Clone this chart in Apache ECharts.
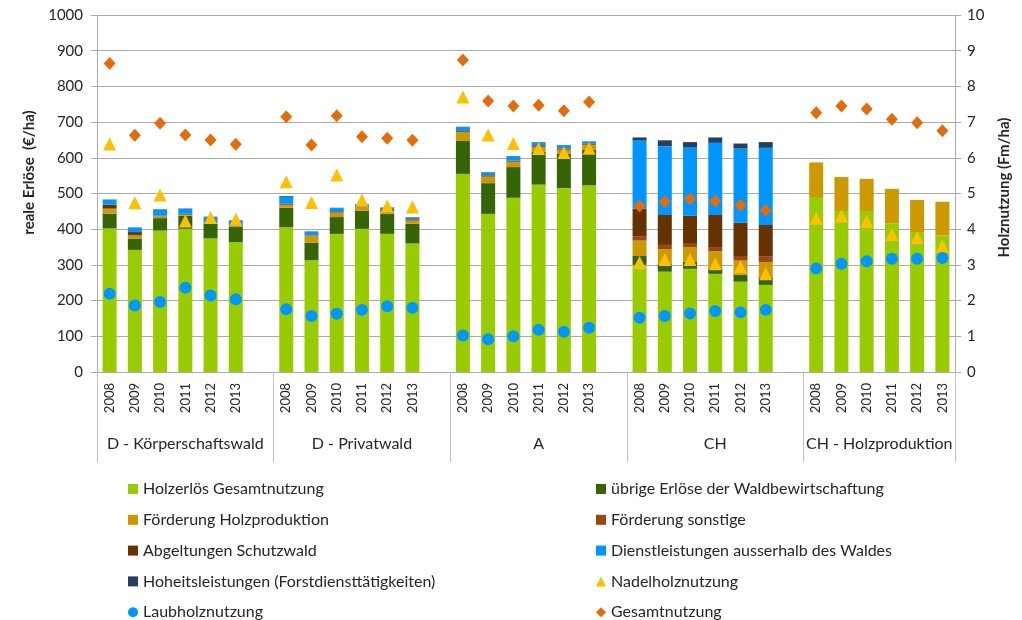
<!DOCTYPE html>
<html>
<head>
<meta charset="utf-8">
<script src="https://cdn.jsdelivr.net/npm/echarts@6/dist/echarts.min.js"></script>
<style>
  html, body { margin: 0; padding: 0; background: #fff; }
  #chart { width: 1022px; height: 620px; }
</style>
</head>
<body>
<div id="chart"></div>
<script>
// groups and years
const groups = ['D - Körperschaftswald', 'D - Privatwald', 'A', 'CH', 'CH - Holzproduktion']
const years = ['2008', '2009', '2010', '2011', '2012', '2013']

// bar segments, €/ha (6 years per group, groups in order above)
const holzerloes = [
  402, 342, 396, 401, 374, 364,
  406, 313, 387, 401, 387, 360,
  555, 443, 488, 525, 515, 523,
  300, 281, 289, 275, 253, 244,
  490, 451, 451, 416, 392, 382
]
const uebrigeErloese = [
  41, 32, 35, 37, 42, 42,
  54, 49, 47, 51, 56, 55,
  92, 86, 86, 91, 96, 99,
  25, 21, 20, 15, 19, 21,
  0, 0, 0, 0, 0, 0
]
const foerderungHolz = [
  13, 8, 5, 2, 2, 2,
  7, 20, 12, 10, 8, 9,
  24, 18, 14, 13, 11, 13,
  43, 42, 41, 48, 40, 43,
  97, 95, 90, 97, 90, 95
]
const foerderungSonstige = [
  2, 2, 1, 1, 1, 1,
  2, 1, 1, 1, 3, 2,
  2, 2, 2, 2, 2, 2,
  11, 12, 9, 12, 13, 15,
  0, 0, 0, 0, 0, 0
]
const schutzwald = [
  11, 8, 1, 2, 1, 1,
  3, 1, 1, 0, 2, 2,
  2, 2, 2, 2, 2, 2,
  78, 84, 79, 90, 93, 89,
  0, 0, 0, 0, 0, 0
]
const dienstleistungen = [
  13, 12, 17, 14, 14, 14,
  19, 9, 11, 6, 4, 5,
  11, 8, 12, 10, 9, 6,
  191, 192, 192, 202, 208, 216,
  0, 0, 0, 0, 0, 0
]
const hoheitsleistungen = [
  1, 1, 1, 1, 1, 1,
  2, 1, 1, 1, 1, 1,
  1, 1, 1, 1, 1, 1,
  9, 17, 14, 15, 14, 16,
  0, 0, 0, 0, 0, 0
]

// markers, Fm/ha
const nadelholz = [
  6.39, 4.74, 4.96, 4.23, 4.33, 4.28,
  5.33, 4.75, 5.52, 4.82, 4.65, 4.62,
  7.70, 6.64, 6.40, 6.26, 6.15, 6.27,
  3.07, 3.15, 3.15, 3.03, 2.95, 2.75,
  4.31, 4.37, 4.22, 3.85, 3.76, 3.53
]
const laubholz = [
  2.19, 1.86, 1.96, 2.36, 2.14, 2.04,
  1.76, 1.57, 1.63, 1.74, 1.84, 1.80,
  1.02, 0.92, 1.00, 1.18, 1.13, 1.24,
  1.52, 1.57, 1.64, 1.71, 1.67, 1.74,
  2.90, 3.03, 3.10, 3.17, 3.17, 3.19
]
const gesamtnutzung = [
  8.64, 6.63, 6.97, 6.64, 6.50, 6.38,
  7.15, 6.36, 7.18, 6.59, 6.55, 6.49,
  8.74, 7.59, 7.45, 7.47, 7.32, 7.56,
  4.65, 4.77, 4.85, 4.78, 4.67, 4.53,
  7.26, 7.45, 7.37, 7.08, 6.98, 6.76
]

const leftTicks = [0, 100, 200, 300, 400, 500, 600, 700, 800, 900, 1000]
const rightTicks = [0, 1, 2, 3, 4, 5, 6, 7, 8, 9, 10]

// one empty slot after every group except the last
const slotsPerGroup = groups.map((g, i) => i < groups.length - 1 ? years.length + 1 : years.length)
const expand = (arr, blank) => {
  const out = []
  groups.forEach((g, gi) => {
    years.forEach((y, yi) => out.push(arr[gi * years.length + yi]))
    if (gi < groups.length - 1) out.push(blank)
  })
  return out
}
const categories = expand(years.concat(years, years, years, years), '')
const totalSlots = categories.length
const groupEdges = [0]
slotsPerGroup.forEach(n => groupEdges.push(groupEdges[groupEdges.length - 1] + n))
const groupCenters = groups.map((g, i) => (groupEdges[i] + groupEdges[i + 1]) / 2)

const FONT = 'Lato'
const TEXT = '#262626'
const GRID = '#ababab'

const barDefs = [
  ['Holzerlös Gesamtnutzung', holzerloes, '#99cc00'],
  ['übrige Erlöse der Waldbewirtschaftung', uebrigeErloese, '#356405'],
  ['Förderung Holzproduktion', foerderungHolz, '#cc9900'],
  ['Förderung sonstige', foerderungSonstige, '#9c4710'],
  ['Abgeltungen Schutzwald', schutzwald, '#663300'],
  ['Dienstleistungen ausserhalb des Waldes', dienstleistungen, '#0096ff'],
  ['Hoheitsleistungen (Forstdiensttätigkeiten)', hoheitsleistungen, '#243f60']
]
const markerDefs = [
  ['Nadelholznutzung', nadelholz, '#ffc000', 'triangle', 13],
  ['Laubholznutzung', laubholz, '#0096ff', 'circle', 12],
  ['Gesamtnutzung', gesamtnutzung, '#e46c0a', 'diamond', 12]
]

const series = []
barDefs.forEach(([name, arr, color]) => {
  series.push({
    name, type: 'bar', stack: 'erloese', data: expand(arr, '-'),
    barWidth: 14, itemStyle: { color }, emphasis: { disabled: true }
  })
})
markerDefs.forEach(([name, arr, color, symbol, size]) => {
  series.push({
    name, type: 'scatter', yAxisIndex: 1, data: expand(arr, '-'),
    symbol, symbolSize: symbol === 'diamond' ? [12, 13] : size,
    itemStyle: { color, opacity: 1 }, emphasis: { disabled: true }
  })
})

const legendIcon = name => {
  const m = markerDefs.find(d => d[0] === name)
  return m ? m[3] : 'rect'
}
const allNames = barDefs.map(d => d[0]).concat(markerDefs.map(d => d[0]))
const legendBase = {
  orient: 'vertical', itemWidth: 10, itemHeight: 10, itemGap: 14.8,
  selectedMode: false, padding: 0, height: 200,
  textStyle: { fontFamily: FONT, fontSize: 16, color: TEXT, lineHeight: 16 }
}

const chart = echarts.init(document.getElementById('chart'))
chart.setOption({
  animation: false,
  textStyle: { fontFamily: FONT },
  grid: { left: 97, right: 67, top: 15, bottom: 248 },
  legend: [
    Object.assign({}, legendBase, {
      left: 128, top: 481,
      data: allNames.filter((n, i) => i % 2 === 0).map(n => ({ name: n, icon: legendIcon(n) }))
    }),
    Object.assign({}, legendBase, {
      left: 596, top: 481,
      data: allNames.filter((n, i) => i % 2 === 1).map(n => ({ name: n, icon: legendIcon(n) }))
    })
  ],
  xAxis: [
    {
      type: 'category', data: categories, boundaryGap: true,
      axisLine: { lineStyle: { color: GRID } },
      axisTick: { show: false },
      axisLabel: { interval: 0, rotate: 90, margin: 11, fontSize: 13, color: TEXT, fontFamily: FONT }
    },
    {
      type: 'value', min: 0, max: totalSlots, position: 'bottom',
      axisLine: { show: false }, splitLine: { show: false },
      axisTick: { show: true, customValues: groupEdges, length: 90, lineStyle: { color: '#c0c0c0' } },
      axisLabel: {
        customValues: groupCenters, margin: 64, fontSize: 16, color: TEXT, fontFamily: FONT,
        formatter: v => {
          const i = groupCenters.indexOf(v)
          return i >= 0 ? groups[i] : ''
        }
      }
    }
  ],
  yAxis: [
    {
      type: 'value', min: leftTicks[0], max: leftTicks[leftTicks.length - 1], interval: 100,
      name: 'reale Erlöse  (€/ha)', nameLocation: 'middle', nameGap: 60, nameRotate: 90,
      nameTextStyle: { fontSize: 15, fontWeight: 'bold', color: TEXT, fontFamily: FONT, padding: [0, 0, 0, 42] },
      axisLine: { show: true, lineStyle: { color: GRID } },
      axisTick: { show: true, length: 6, lineStyle: { color: GRID } },
      axisLabel: { fontSize: 15, color: TEXT, margin: 14, fontFamily: FONT, formatter: v => String(v) },
      splitLine: { lineStyle: { color: GRID } }
    },
    {
      type: 'value', min: rightTicks[0], max: rightTicks[rightTicks.length - 1], interval: 1,
      name: 'Holznutzung (Fm/ha)', nameLocation: 'middle', nameGap: 42, nameRotate: 90,
      nameTextStyle: { fontSize: 15, fontWeight: 'bold', color: TEXT, fontFamily: FONT, padding: [0, 0, 0, 12] },
      axisLine: { show: true, lineStyle: { color: GRID } },
      axisTick: { show: true, length: 6, lineStyle: { color: GRID } },
      axisLabel: { fontSize: 15, color: TEXT, margin: 12, fontFamily: FONT, formatter: v => String(v) },
      splitLine: { show: false }
    }
  ],
  series
})
</script>
</body>
</html>
